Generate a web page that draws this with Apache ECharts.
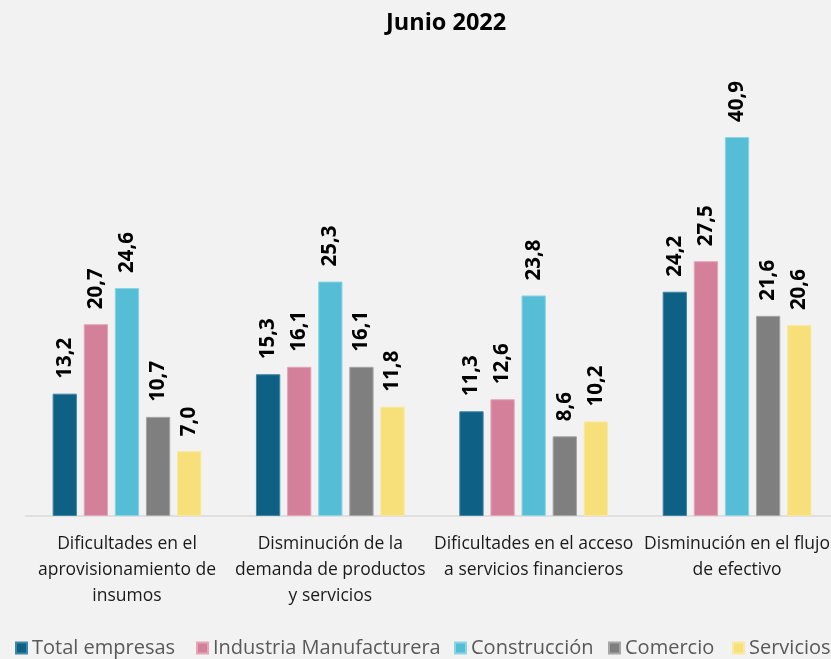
<!DOCTYPE html>
<html><head><meta charset="utf-8">
<script src="https://cdn.jsdelivr.net/npm/echarts@6/dist/echarts.min.js"></script>
<style>html,body{margin:0;padding:0;background:#F2F2F2}#c{width:831px;height:659px}</style>
</head><body><div id="c"></div>
<script>
const categories = ["Dificultades en el\naprovisionamiento de\ninsumos","Disminución de la\ndemanda de productos\ny servicios","Dificultades en el acceso\na servicios financieros","Disminución en el flujo\nde efectivo"];
const seriesNames = ["Total empresas","Industria Manufacturera","Construcción","Comercio","Servicios"];
const totalEmpresas = [13.2,15.3,11.3,24.2];
const industria = [20.7,16.1,12.6,27.5];
const construccion = [24.6,25.3,23.8,40.9];
const comercio = [10.7,16.1,8.6,21.6];
const servicios = [7.0,11.8,10.2,20.6];
const colors = ["#0F6085","#D5809A","#55BED6","#7F7F7F","#F7E07A"];
const borders = ["#3F86A6","#E2A6B8","#8CD3E4","#A6A6A6","#F9E99E"];
const legendLefts = [15,196,454,608,732];
const values = [totalEmpresas,industria,construccion,comercio,servicios];
const chart = echarts.init(document.getElementById('c'));
chart.setOption({
  backgroundColor:'#F2F2F2',
  animation:false,
  title:{text:'Junio 2022',left:381,top:6,textStyle:{fontFamily:'Open Sans',fontWeight:'bold',fontSize:23.5,color:'#000'}},
  legend: seriesNames.map((n,i)=>({data:[n],left:legendLefts[i],top:638,padding:0,itemWidth:11,itemHeight:11,icon:'rect',
    textStyle:{fontFamily:'Open Sans',fontSize:20,color:'#595959'}})),
  grid:{left:25.3,right:-7.7,top:99,bottom:143,outerBoundsMode:'none',containLabel:false},
  xAxis:{type:'category',data:categories,axisTick:{show:false},
    axisLine:{lineStyle:{color:'#D9D9D9',width:1.5}},
    axisLabel:{interval:0,margin:15,fontFamily:'Open Sans',fontSize:17.5,color:'#1A1A1A',lineHeight:26}},
  yAxis:{type:'value',min:0,max:45,show:false,splitLine:{show:false}},
  series: seriesNames.map((n,i)=>({
    name:n,type:'bar',data:values[i],barWidth:24.3,barGap:'28%',
    itemStyle:{color:colors[i],borderColor:borders[i],borderWidth:1},
    label:{show:true,position:'top',rotate:90,align:'left',verticalAlign:'middle',distance:15,
      formatter:p=>p.value.toFixed(1).replace('.',','),
      fontFamily:'Open Sans',fontWeight:'bold',fontSize:20.5,color:'#000'}
  }))
});
</script></body></html>
